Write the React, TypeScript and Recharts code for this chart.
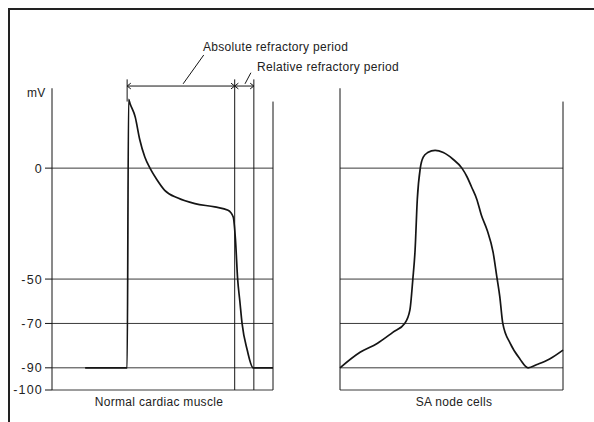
import React from "react";
import { LineChart, Line, XAxis, YAxis, ReferenceLine } from "recharts";

// time in ms, membrane potential in mV
const muscleTime = [45, 102, 104, 106, 113, 119, 126, 133, 142, 153, 171, 194, 221, 239, 246, 249, 252, 255, 258, 265, 273, 300];
const muscleMv = [-90, -90, 31, 29, 23, 13, 5, 0, -5, -10, -13.5, -16, -17.5, -19, -22, -32, -50, -60, -70, -82, -90, -90];

const nodeTime = [0, 27, 50, 71, 87, 94, 98, 101, 104, 108, 112, 118, 128, 139, 152, 164, 171, 177, 184, 190, 198, 206, 211, 215, 219, 229, 242, 253, 265, 282, 300];
const nodeMv = [-90, -83, -79, -74, -70, -64, -50, -37, -14, 0, 5, 7, 8, 7, 4, 0, -4, -8.5, -14, -21, -28, -38, -49, -58, -70, -79, -86, -90, -88.5, -86, -82];

const gridLevels = [0, -50, -70, -90, -100];
const yTicks = [0, -50, -70, -90, -100];

// refractory markers (ms)
const upstrokeT = 102;
const absoluteEndT = 248;
const relativeEndT = 274;

const muscleData = muscleTime.map((t, i) => ({ t, v: muscleMv[i] }));
const nodeData = nodeTime.map((t, i) => ({ t, v: nodeMv[i] }));

const ink = "#151515";
const grid = "#3a3a3a";
const font = "'Liberation Sans', Arial, sans-serif";

const label = (extra: React.CSSProperties): React.CSSProperties => ({
  position: "absolute",
  fontFamily: font,
  fontSize: 12,
  letterSpacing: 0.3,
  color: "#222",
  lineHeight: "14px",
  whiteSpace: "nowrap",
  ...extra,
});

function seg(x1: number, y1: number, x2: number, y2: number, key: string, w = 1) {
  return (
    <ReferenceLine
      key={key}
      segment={[{ x: x1, y: y1 }, { x: x2, y: y2 }]}
      stroke={ink}
      strokeWidth={w}
    />
  );
}

export default function App() {
  return (
    <div style={{ position: "fixed", left: 0, top: 0, width: 594, height: 422, background: "#fff" }}>
      {/* scanned page frame */}
      <div style={{ position: "absolute", left: 8, top: 8, width: 586, height: 0, borderTop: "2px solid #222" }} />
      <div style={{ position: "absolute", left: 8, top: 8, width: 0, height: 414, borderLeft: "2px solid #222" }} />

      <div style={{ position: "absolute", left: 0, top: 0 }}>
        <LineChart width={290} height={422} data={muscleData} margin={{ top: 35, right: 17, bottom: 32, left: 0 }}>
          <XAxis dataKey="t" type="number" domain={[0, 300]} hide />
          <YAxis
            type="number"
            domain={[-100, 60]}
            ticks={yTicks}
            width={52}
            axisLine={false}
            tickSize={7}
            tickLine={{ stroke: ink }}
            tick={{ fill: "#222", fontSize: 12.5, fontFamily: font, letterSpacing: 1.2 }}
          />
          {gridLevels.map((g) => (
            <ReferenceLine key={g} y={g} stroke={grid} strokeWidth={1} />
          ))}
          {seg(0, 36, 0, -100, "axis")}
          {seg(300, 30, 300, -100, "right")}
          {seg(upstrokeT, 40, upstrokeT, 30, "up")}
          {seg(absoluteEndT, 40, absoluteEndT, -100, "abs")}
          {seg(relativeEndT, 40, relativeEndT, -100, "rel")}
          {seg(upstrokeT, 37, relativeEndT, 37, "arrow")}
          {seg(upstrokeT, 37, upstrokeT + 5, 38.3, "a1")}
          {seg(upstrokeT, 37, upstrokeT + 5, 35.7, "a2")}
          {seg(absoluteEndT, 37, absoluteEndT - 5, 38.3, "a3")}
          {seg(absoluteEndT, 37, absoluteEndT - 5, 35.7, "a4")}
          {seg(absoluteEndT, 37, absoluteEndT + 5, 38.3, "a5")}
          {seg(absoluteEndT, 37, absoluteEndT + 5, 35.7, "a6")}
          {seg(relativeEndT, 37, relativeEndT - 5, 38.3, "a7")}
          {seg(relativeEndT, 37, relativeEndT - 5, 35.7, "a8")}
          {seg(178, 38, 206, 51, "lead1")}
          {seg(262, 38, 270, 43, "lead2")}
          <Line
            type="monotone"
            dataKey="v"
            stroke={ink}
            strokeWidth={1.7}
            dot={false}
            isAnimationActive={false}
          />
        </LineChart>
      </div>

      <div style={{ position: "absolute", left: 290, top: 0 }}>
        <LineChart width={304} height={422} data={nodeData} margin={{ top: 35, right: 31, bottom: 32, left: 50 }}>
          <XAxis dataKey="t" type="number" domain={[0, 300]} hide />
          <YAxis type="number" domain={[-100, 60]} hide />
          {gridLevels.map((g) => (
            <ReferenceLine key={g} y={g} stroke={grid} strokeWidth={1} />
          ))}
          {seg(0, 36, 0, -100, "left")}
          {seg(300, 30, 300, -100, "right")}
          <Line
            type="monotone"
            dataKey="v"
            stroke={ink}
            strokeWidth={1.7}
            dot={false}
            isAnimationActive={false}
          />
        </LineChart>
      </div>

      <div style={label({ left: 203, top: 40 })}>Absolute refractory period</div>
      <div style={label({ left: 257, top: 60 })}>Relative refractory period</div>
      <div style={label({ left: 27, top: 86 })}>mV</div>
      <div style={label({ left: 159, top: 395, transform: "translateX(-50%)" })}>Normal cardiac muscle</div>
      <div style={label({ left: 454, top: 395, transform: "translateX(-50%)" })}>SA node cells</div>
    </div>
  );
}
